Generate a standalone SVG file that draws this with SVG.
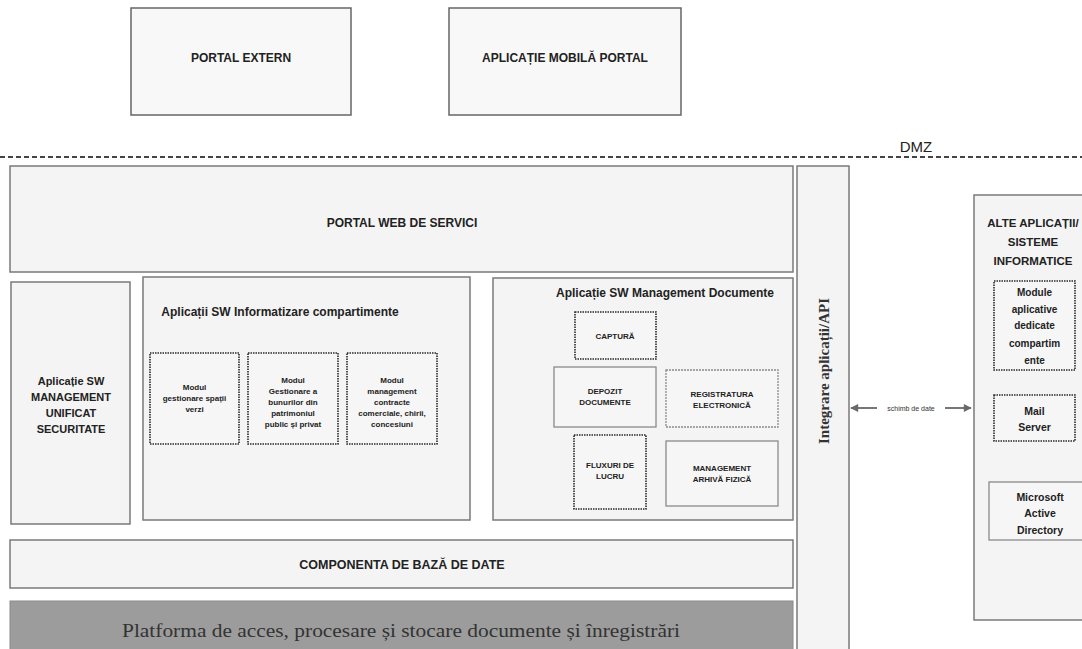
<svg xmlns="http://www.w3.org/2000/svg" width="1082" height="649" viewBox="0 0 1082 649">
<style>
.box{fill:#f4f4f4;stroke:#7a7a7a;stroke-width:1.5}
.top{fill:#f8f8f8;stroke:#666;stroke-width:1.5}
.dot{fill:#f6f6f6;stroke:#2a2a2a;stroke-width:1.6;stroke-dasharray:1.5 1}
.lite{fill:#f6f6f6;stroke:#8a8a8a;stroke-width:1.3}
.t{font-family:"Liberation Sans",Arial,sans-serif;font-weight:bold;fill:#222;text-anchor:middle}
.s{font-family:"Liberation Serif","Times New Roman",serif;fill:#333;text-anchor:middle}
</style>
<defs>
<marker id="ah" viewBox="0 0 10 10" refX="9" refY="5" markerWidth="12" markerHeight="8" orient="auto-start-reverse" markerUnits="userSpaceOnUse">
<path d="M0,0 L10,5 L0,10 z" fill="#6a6a6a"/>
</marker>
</defs>
<rect width="1082" height="649" fill="#fff"/>

<g id="portal-extern"><rect class="top" x="131" y="8" width="220" height="107"/><text class="t" x="241" y="62" font-size="12">PORTAL EXTERN</text></g>
<g id="aplicatie-mobila"><rect class="top" x="449" y="8" width="232" height="107"/><text class="t" x="565" y="62" font-size="12">APLICAȚIE MOBILĂ PORTAL</text></g>

<g id="dmz"><text x="916" y="152" font-family="Liberation Sans,Arial,sans-serif" font-size="15" fill="#222" text-anchor="middle">DMZ</text>
<line x1="0" y1="157" x2="1082" y2="157" stroke="#444" stroke-width="2" stroke-dasharray="5 3"/></g>

<g id="portal-web"><rect class="box" x="10" y="166" width="783" height="106"/><text class="t" x="402" y="227" font-size="12">PORTAL WEB DE SERVICI</text></g>

<g id="securitate"><rect class="box" x="11" y="282" width="119" height="242"/>
<text class="t" font-size="11"><tspan x="71" y="385">Aplicație SW</tspan><tspan x="71" y="401">MANAGEMENT</tspan><tspan x="71" y="417">UNIFICAT</tspan><tspan x="71" y="433">SECURITATE</tspan></text></g>

<g id="informatizare"><rect class="box" x="143" y="277" width="327" height="243"/>
<text class="t" x="280" y="316" font-size="12">Aplicații SW Informatizare compartimente</text>
<g id="modul-spatii"><rect class="dot" x="150" y="353" width="89" height="91"/><text class="t" font-size="8"><tspan x="194.5" y="390">Modul</tspan><tspan x="194.5" y="401">gestionare spații</tspan><tspan x="194.5" y="412">verzi</tspan></text></g>
<g id="modul-bunuri"><rect class="dot" x="248" y="353" width="90" height="91"/><text class="t" font-size="8"><tspan x="293" y="383">Modul</tspan><tspan x="293" y="394">Gestionare a</tspan><tspan x="293" y="405">bunurilor din</tspan><tspan x="293" y="416">patrimoniul</tspan><tspan x="293" y="427">public și privat</tspan></text></g>
<g id="modul-contracte"><rect class="dot" x="347" y="353" width="90" height="91"/><text class="t" font-size="8"><tspan x="392" y="383">Modul</tspan><tspan x="392" y="394">management</tspan><tspan x="392" y="405">contracte</tspan><tspan x="392" y="416">comerciale, chirii,</tspan><tspan x="392" y="427">concesiuni</tspan></text></g>
</g>

<g id="management-documente"><rect class="box" x="493" y="278" width="300" height="242"/>
<text class="t" x="665" y="297" font-size="12">Aplicație SW Management Documente</text>
<g id="captura"><rect class="dot" x="575" y="312" width="81" height="47"/><text class="t" x="615" y="339" font-size="8">CAPTURĂ</text></g>
<g id="depozit"><rect class="lite" x="554" y="367" width="102" height="60"/><text class="t" font-size="8"><tspan x="605" y="394">DEPOZIT</tspan><tspan x="605" y="405">DOCUMENTE</tspan></text></g>
<g id="registratura"><rect class="lite" x="666" y="370" width="112" height="57" stroke-dasharray="2 1"/><text class="t" font-size="8"><tspan x="722" y="397">REGISTRATURA</tspan><tspan x="722" y="408">ELECTRONICĂ</tspan></text></g>
<g id="fluxuri"><rect class="dot" x="574" y="435" width="72" height="74"/><text class="t" font-size="8"><tspan x="610" y="468">FLUXURI DE</tspan><tspan x="610" y="479">LUCRU</tspan></text></g>
<g id="arhiva"><rect class="lite" x="666" y="441" width="112" height="65"/><text class="t" font-size="8"><tspan x="722" y="471">MANAGEMENT</tspan><tspan x="722" y="482">ARHIVĂ FIZICĂ</tspan></text></g>
</g>

<g id="baza-date"><rect class="box" x="10" y="540" width="783" height="48"/><text class="t" x="402" y="569" font-size="12.5">COMPONENTA DE BAZĂ DE DATE</text></g>
<g id="platforma"><rect x="10" y="601" width="783" height="50" fill="#9c9c9c" stroke="#8a8a8a"/><text class="s" x="401" y="637" font-size="18" fill="#2e2e2e" textLength="558" lengthAdjust="spacingAndGlyphs">Platforma de acces, procesare și stocare documente și înregistrări</text></g>

<g id="integrare"><rect class="box" x="797" y="166" width="52" height="490"/><text class="s" font-weight="bold" font-size="15" fill="#222" transform="translate(829,371) rotate(-90)" x="0" y="0">Integrare aplicații/API</text></g>

<g id="alte-aplicatii"><rect class="box" x="974" y="195" width="120" height="425"/>
<text class="t" font-size="11.5"><tspan x="1033" y="227">ALTE APLICAȚII/</tspan><tspan x="1033" y="246">SISTEME</tspan><tspan x="1033" y="265">INFORMATICE</tspan></text>
<g id="module-aplicative"><rect class="dot" x="994" y="281" width="81" height="89"/><text class="t" font-size="10"><tspan x="1034.5" y="296">Module</tspan><tspan x="1034.5" y="313">aplicative</tspan><tspan x="1034.5" y="329">dedicate</tspan><tspan x="1034.5" y="347">compartim</tspan><tspan x="1034.5" y="364">ente</tspan></text></g>
<g id="mail-server"><rect class="dot" x="994" y="395" width="81" height="46"/><text class="t" font-size="10.5"><tspan x="1034.5" y="415">Mail</tspan><tspan x="1034.5" y="431">Server</tspan></text></g>
<g id="active-directory"><rect class="lite" x="989" y="482" width="100" height="58"/><text class="t" font-size="10.5"><tspan x="1040" y="501">Microsoft</tspan><tspan x="1040" y="517">Active</tspan><tspan x="1040" y="534">Directory</tspan></text></g>
</g>

<g id="connectors">
<line x1="851" y1="408" x2="971" y2="408" stroke="#777" stroke-width="2" marker-start="url(#ah)" marker-end="url(#ah)"/>
<rect x="877" y="404" width="68" height="8" fill="#fff"/>
<text x="911" y="410.5" font-family="Liberation Sans,Arial,sans-serif" font-size="7" fill="#333" text-anchor="middle">schimb de date</text>
</g>
</svg>
